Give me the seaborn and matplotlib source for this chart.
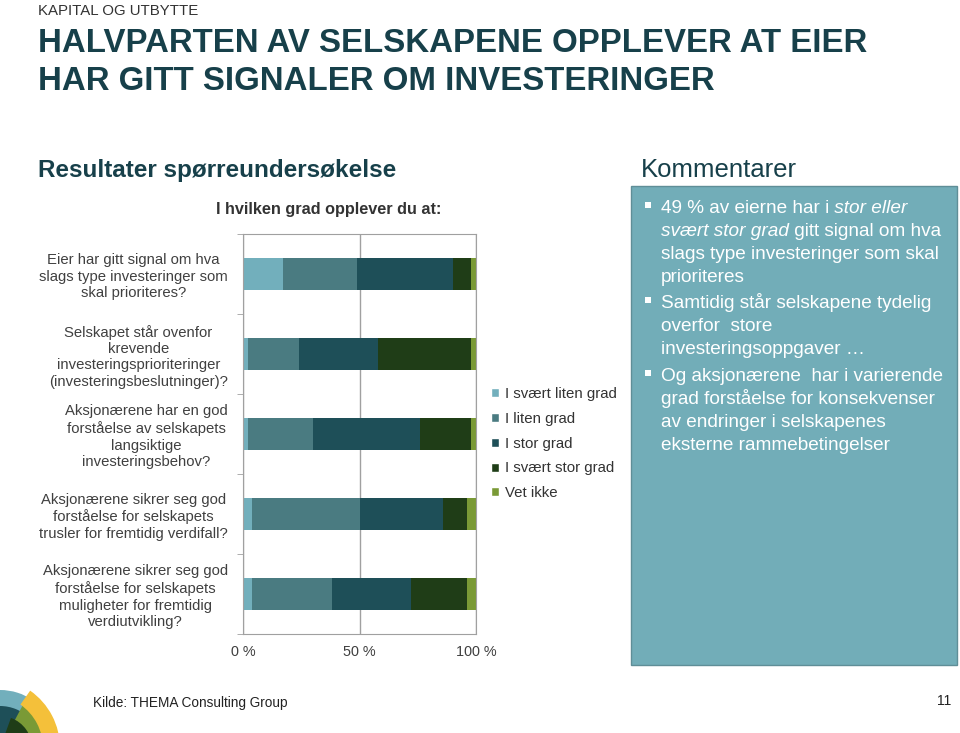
import matplotlib
matplotlib.use("Agg")
import matplotlib.pyplot as plt
import seaborn as sns
import pandas as pd
import numpy as np
from matplotlib.patches import Patch, Rectangle, Wedge

# survey data (percent of answers)
questions = [
    "Eier har gitt signal om hva\nslags type investeringer som\nskal prioriteres?",
    "Selskapet står ovenfor\nkrevende\ninvesteringsprioriteringer\n(investeringsbeslutninger)?",
    "Aksjonærene har en god\nforståelse av selskapets\nlangsiktige\ninvesteringsbehov?",
    "Aksjonærene sikrer seg god\nforståelse for selskapets\ntrusler for fremtidig verdifall?",
    "Aksjonærene sikrer seg god\nforståelse for selskapets\nmuligheter for fremtidig\nverdiutvikling?",
]
series = ["I svært liten grad", "I liten grad", "I stor grad", "I svært stor grad", "Vet ikke"]
svaert_liten = [17, 2, 2, 4, 4]
liten = [32, 22, 28, 46, 34]
stor = [41, 34, 46, 36, 34]
svaert_stor = [8, 40, 22, 10, 24]
vet_ikke = [2, 2, 2, 4, 4]
x_ticks = [0, 50, 100]
x_ticklabels = ["0 %", "50 %", "100 %"]

colors = ["#72AFBC", "#4A7B81", "#1E4F58", "#1F3D17", "#7A9A36"]
teal_dark = "#17404A"
box_col = "#72ADB8"

sns.set_style("white")
plt.rcParams["font.family"] = ["Liberation Sans", "DejaVu Sans"]

W, H = 960, 733
fig = plt.figure(figsize=(W / 100, H / 100), dpi=100)
renderer = fig.canvas.get_renderer()

# background layer in pixel coordinates
bg = fig.add_axes([0, 0, 1, 1], zorder=-1)
bg.set_xlim(0, W)
bg.set_ylim(H, 0)
bg.axis("off")

def ftext(x, y, s, **kw):
    return fig.text(x / W, 1 - y / H, s, va="baseline", **kw)

# headings
ftext(38, 15, "KAPITAL OG UTBYTTE", fontsize=10.8, color="#333333")
ftext(38, 52, "HALVPARTEN AV SELSKAPENE OPPLEVER AT EIER", fontsize=23.8, fontweight="bold", color=teal_dark)
ftext(38, 90, "HAR GITT SIGNALER OM INVESTERINGER", fontsize=23.8, fontweight="bold", color=teal_dark)
ftext(38, 177, "Resultater spørreundersøkelse", fontsize=17.5, fontweight="bold", color=teal_dark)
ftext(641, 177, "Kommentarer", fontsize=18.5, color=teal_dark)
ftext(329, 214, "I hvilken grad opplever du at:", fontsize=11.7, fontweight="bold",
      color="#333333", ha="center")

# stacked bars: draw cumulative totals back to front
values = [svaert_liten, liten, stor, svaert_stor, vet_ikke]
cum = np.cumsum(np.array(values), axis=0)
rows = []
for s, c in zip(series, cum):
    for q, v in zip(questions, c):
        rows.append({"question": q, "series": s, "cum": v})
df = pd.DataFrame(rows)

ax = fig.add_axes([243 / W, 1 - 634 / H, 233 / W, 400 / H])
sns.barplot(data=df, y="question", x="cum", hue="series", hue_order=series[::-1],
            palette=dict(zip(series, colors)), order=questions, dodge=False,
            width=0.4, saturation=1, errorbar=None, linewidth=0, legend=False, ax=ax)
ax.set_xlim(0, 100)
ax.set_ylim(4.5, -0.5)
ax.set_xticks(x_ticks)
ax.set_xticklabels(x_ticklabels)
ax.set_xlabel("")
ax.set_ylabel("")
ax.grid(axis="x", color="#A0A0A0", lw=1)
ax.set_axisbelow(True)
for sp in ax.spines.values():
    sp.set_color("#A0A0A0")
ax.set_yticks(np.arange(-0.5, 5, 1), minor=True)
ax.tick_params(axis="y", which="major", length=0, pad=11, labelsize=10.7, labelcolor="#404040")
ax.tick_params(axis="y", which="minor", length=4, color="#A0A0A0", left=True)
ax.tick_params(axis="x", length=0, pad=8, labelsize=10.4, labelcolor="#404040")
for lab in ax.get_yticklabels():
    lab.set_multialignment("center")
    lab.set_linespacing(1.22)

handles = [Patch(facecolor=c, label=s) for s, c in zip(series, colors)]
fig.legend(handles=handles, loc="upper left", bbox_to_anchor=(491 / W, 1 - 387 / H),
           frameon=False, fontsize=10.8, handlelength=0.55, handleheight=0.55,
           handletextpad=0.4, labelspacing=0.72, borderpad=0, borderaxespad=0,
           labelcolor="#333333")

# comment box
bg.add_patch(Rectangle((631, 186), 326, 479, facecolor=box_col, edgecolor="#5F8E97", lw=1))

def put_line(x, y, parts):
    for s, style in parts:
        t = ftext(x, y, s, fontsize=13.7, color="white", style=style)
        x += t.get_window_extent(renderer).width

bullets = [
    (213, [[("49 % av eierne har i", "normal"), (" stor eller", "italic")],
           [("svært stor grad", "italic"), (" gitt signal om hva", "normal")],
           [("slags type investeringer som skal", "normal")],
           [("prioriteres", "normal")]]),
    (308, [[("Samtidig står selskapene tydelig", "normal")],
           [("overfor  store", "normal")],
           [("investeringsoppgaver …", "normal")]]),
    (381, [[("Og aksjonærene  har i varierende", "normal")],
           [("grad forståelse for konsekvenser", "normal")],
           [("av endringer i selskapenes", "normal")],
           [("eksterne rammebetingelser", "normal")]]),
]
for y0, lines in bullets:
    bg.add_patch(Rectangle((645, y0 - 11), 6, 6, facecolor="white", lw=0))
    for i, parts in enumerate(lines):
        put_line(661, y0 + i * 23.1, parts)

# footer
ftext(93, 707, "Kilde: THEMA Consulting Group", fontsize=9.8, color="#222222")
ftext(951, 705, "11", fontsize=10, color="#222222", ha="right")

# logo in the corner
bg.add_patch(Wedge((0, 748), 58, -90, -55, facecolor="#72AFBC", lw=0))
bg.add_patch(Wedge((0, 748), 42, -90, -45, facecolor="#1E4F58", lw=0))
bg.add_patch(Wedge((0, 748), 52, -62, 0, facecolor="#7A9A36", lw=0))
bg.add_patch(Wedge((0, 748), 32, -70, 0, facecolor="#1F3D17", lw=0))
bg.add_patch(Wedge((-10, 748), 70, -55, 0, width=17, facecolor="#F4C03A", lw=0))

fig.savefig("out.png", dpi=100)
